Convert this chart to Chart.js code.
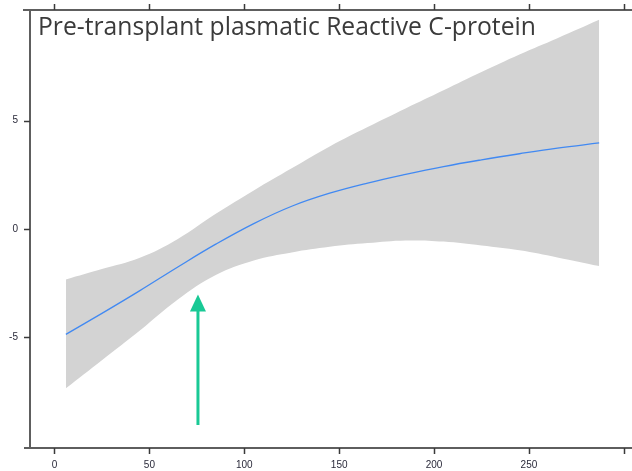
<!DOCTYPE html>
<html>
<head>
<meta charset="utf-8">
<script src="https://cdn.jsdelivr.net/npm/chart.js@4/dist/chart.umd.min.js"></script>
<style>
  html, body { margin: 0; padding: 0; background: #fff; }
  #wrap { width: 632px; height: 471px; position: relative; }
</style>
</head>
<body>
<div id="wrap"><canvas id="c" width="632" height="471"></canvas></div>
<script>
// ---- data ----
const TITLE = "Pre-transplant plasmatic Reactive C-protein";
const XS    = [6,     25,    45,    65,    85,    105,   125,   145,   165,   185,   205,   225,   245,   265,   287];
const FIT   = [-4.86, -3.89, -2.84, -1.75, -0.70, 0.25,  1.05,  1.65,  2.12,  2.52,  2.88,  3.19,  3.47,  3.73,  3.97];
const UPPER = [-2.33, -1.85, -1.33, -0.46, 0.70,  1.78,  2.80,  3.81,  4.70,  5.56,  6.40,  7.24,  8.05,  8.80,  9.65];
const LOWER = [-7.35, -6.05, -4.68, -3.25, -2.12, -1.45, -1.08, -0.82, -0.65, -0.53, -0.58, -0.76, -0.98, -1.31, -1.71];
const X_TICKS = [0, 50, 100, 150, 200, 250, 300];
const X_TICK_LABELS = ["0", "50", "100", "150", "200", "250", ""];
const Y_TICKS = [-5, 0, 5];
const Y_TICK_LABELS = ["-5", "0", "5"];
const ARROW = { x: 75.6, yTip: -3.02, yTail: -9.04 };

const pts = (ys) => XS.map((x, i) => ({ x: x, y: ys[i] }));

const AXIS_COLOR = '#5e5e5e';
const TICK_COLOR = '#3a3a3a';

const framePlugin = {
  id: 'frame',
  afterDatasetsDraw(chart) {
    const ctx = chart.ctx;
    const xs = chart.scales.x, ys = chart.scales.y;
    ctx.save();
    const ax = xs.getPixelForValue(ARROW.x);
    const tipY = ys.getPixelForValue(ARROW.yTip);
    const tailY = ys.getPixelForValue(ARROW.yTail);
    ctx.strokeStyle = '#19c995';
    ctx.fillStyle = '#19c995';
    ctx.lineWidth = 3;
    ctx.beginPath();
    ctx.moveTo(ax, tailY);
    ctx.lineTo(ax, tipY + 14);
    ctx.stroke();
    ctx.beginPath();
    ctx.moveTo(ax, tipY);
    ctx.lineTo(ax - 8, tipY + 17);
    ctx.lineTo(ax + 8, tipY + 17);
    ctx.closePath();
    ctx.fill();
    ctx.restore();
  },
  afterDraw(chart) {
    const ctx = chart.ctx, a = chart.chartArea;
    const xs = chart.scales.x, ys = chart.scales.y;
    ctx.save();
    ctx.strokeStyle = AXIS_COLOR;
    ctx.lineWidth = 2;
    ctx.beginPath();
    ctx.moveTo(a.left - 7, a.top);
    ctx.lineTo(chart.width, a.top);
    ctx.moveTo(a.left - 6, a.bottom);
    ctx.lineTo(chart.width, a.bottom);
    ctx.moveTo(a.left, a.top);
    ctx.lineTo(a.left, a.bottom);
    ctx.stroke();
    ctx.strokeStyle = TICK_COLOR;
    ctx.lineWidth = 1.5;
    ctx.beginPath();
    X_TICKS.forEach(v => {
      const px = Math.round(xs.getPixelForValue(v)) + 0.5;
      ctx.moveTo(px, a.bottom);
      ctx.lineTo(px, a.bottom + 6);
      ctx.moveTo(px, a.top);
      ctx.lineTo(px, a.top - 6);
    });
    Y_TICKS.forEach(v => {
      const py = Math.round(ys.getPixelForValue(v)) + 0.5;
      ctx.moveTo(a.left, py);
      ctx.lineTo(a.left - 6, py);
    });
    ctx.stroke();
    ctx.fillStyle = '#3b3b3b';
    ctx.textBaseline = 'alphabetic';
    ctx.textAlign = 'left';
    let size = 24;
    ctx.font = size + 'px "Open Sans"';
    const w = ctx.measureText(TITLE).width;
    size = size * 498 / w;
    ctx.font = size.toFixed(2) + 'px "Open Sans"';
    ctx.fillText(TITLE, a.left + 8, 35);
    ctx.restore();
  }
};

new Chart(document.getElementById('c'), {
  type: 'line',
  data: {
    datasets: [
      { label: 'upper', data: pts(UPPER), fill: '+1', backgroundColor: '#d3d3d3', order: 2,
        borderWidth: 0, borderColor: 'rgba(0,0,0,0)', pointRadius: 0, tension: 0.4 },
      { label: 'lower', data: pts(LOWER), fill: false, order: 3,
        borderWidth: 0, borderColor: 'rgba(0,0,0,0)', pointRadius: 0, tension: 0.4 },
      { label: 'fit', data: pts(FIT), fill: false, borderColor: '#4189f2', borderWidth: 1.3, order: 0,
        pointRadius: 0, tension: 0.4 }
    ]
  },
  options: {
    responsive: false,
    animation: false,
    layout: { padding: { top: 10, left: 0, right: 0, bottom: 0 } },
    plugins: { legend: { display: false }, tooltip: { enabled: false }, title: { display: false } },
    scales: {
      x: {
        type: 'linear', min: -12.9, max: 304.3,
        grid: { display: false, drawTicks: false },
        border: { display: false },
        afterBuildTicks: (s) => { s.ticks = X_TICKS.map(v => ({ value: v })); },
        afterFit: (s) => { s.height = 23; s.paddingLeft = 0; s.paddingRight = 0; },
        ticks: {
          padding: 11, maxRotation: 0, autoSkip: false,
          color: '#2a2a3a', font: { family: '"Liberation Sans", Arial', size: 10 },
          callback: (v) => { const i = X_TICKS.indexOf(v); return i >= 0 ? X_TICK_LABELS[i] : ''; }
        }
      },
      y: {
        type: 'linear', min: -10.1, max: 10.1,
        grid: { display: false, drawTicks: false },
        border: { display: false },
        afterBuildTicks: (s) => { s.ticks = Y_TICKS.map(v => ({ value: v })); },
        afterFit: (s) => { s.width = 30; s.paddingTop = 0; s.paddingBottom = 0; },
        ticks: {
          padding: 12, autoSkip: false,
          color: '#2a2a3a', font: { family: '"Liberation Sans", Arial', size: 10 },
          callback: (v) => { const i = Y_TICKS.indexOf(v); return i >= 0 ? Y_TICK_LABELS[i] : ''; }
        }
      }
    }
  },
  plugins: [framePlugin]
});
</script>
</body>
</html>
